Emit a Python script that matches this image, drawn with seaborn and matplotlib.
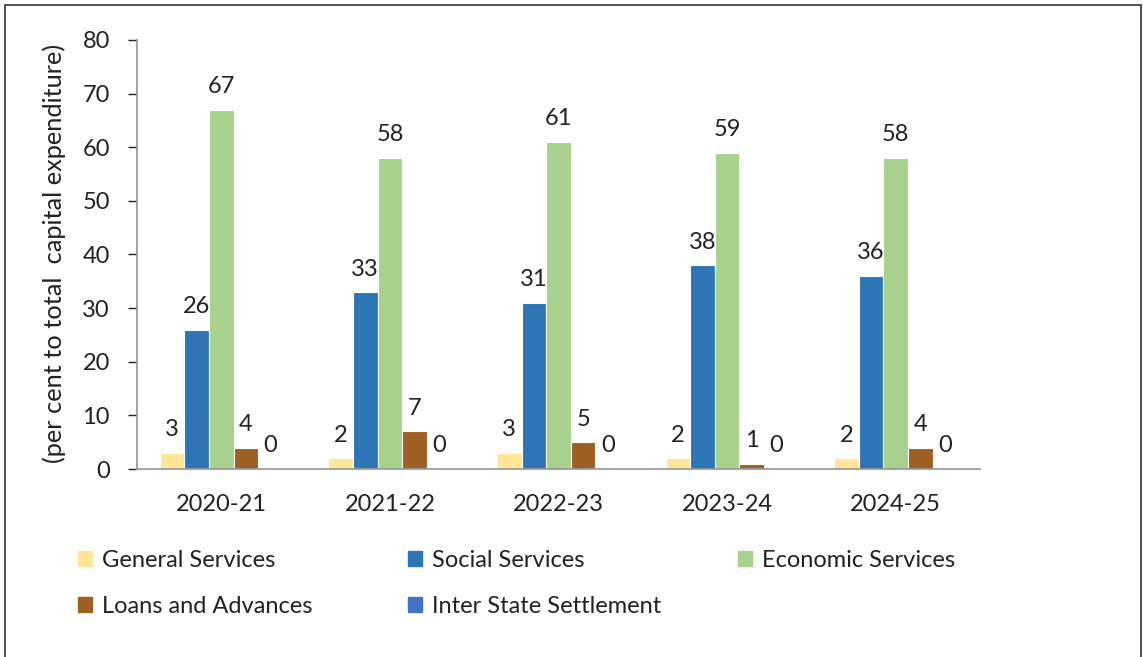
import numpy as np
import pandas as pd
import matplotlib
matplotlib.use("Agg")
import matplotlib.pyplot as plt
import seaborn as sns

years = ["2020-21", "2021-22", "2022-23", "2023-24", "2024-25"]
series = ["General Services", "Social Services", "Economic Services",
          "Loans and Advances", "Inter State Settlement"]
general = [3, 2, 3, 2, 2]
social = [26, 33, 31, 38, 36]
economic = [67, 58, 61, 59, 58]
loans = [4, 7, 5, 1, 4]
inter_state = [0, 0, 0, 0, 0]
colors = ["#FFE699", "#2E75B6", "#A9D18E", "#9E6024", "#4472C4"]

values = [general, social, economic, loans, inter_state]
rows = []
for s, vals in zip(series, values):
    for y, v in zip(years, vals):
        rows.append({"Year": y, "Series": s, "Value": v})
df = pd.DataFrame(rows)

sns.set_theme(style="white")
plt.rcParams['font.family'] = ['Lato', 'DejaVu Sans']

W, H = 1143, 657
fig = plt.figure(figsize=(W/100, H/100), dpi=100)
ax_l, ax_r, ax_t, ax_b = 137, 980, 40, 469
ax = fig.add_axes([ax_l/W, 1-ax_b/H, (ax_r-ax_l)/W, (ax_b-ax_t)/H])

sns.barplot(data=df, x="Year", y="Value", hue="Series", order=years,
            hue_order=series, palette=colors, width=0.73, ax=ax,
            errorbar=None, saturation=1, edgecolor="white", linewidth=0.8)

for cont in ax.containers:
    labels = [f"{int(round(b.get_height()))}" for b in cont]
    ax.bar_label(cont, labels=labels, padding=9, fontsize=17, color="#222222")

ax.set_ylim(0, 80)
ax.set_yticks(range(0, 81, 10))
ax.tick_params(axis='y', labelsize=17, length=6.5, width=1, pad=13, left=True,
               direction='out', colors="#222222")
ax.tick_params(axis='x', labelsize=17, length=0, colors="#222222", pad=18)
for t in ax.get_yticklines():
    t.set_color("#999999")
ax.set_xlabel("")
ax.set_ylabel("")
fig.text(54/W, 1-253/H, "(per cent to total  capital expenditure)", rotation=90,
         ha="center", va="center", fontsize=18.3, color="#222222")
sns.despine(ax=ax, top=True, right=True)
ax.spines['left'].set_color("#999999")
ax.spines['bottom'].set_color("#999999")

ax.legend_.remove()
handles = [plt.Rectangle((0, 0), 1, 1, color=c) for c in colors]
columns = [[0, 3], [1, 4], [2]]
col_x = [78, 408, 738]
for xs, idx in zip(col_x, columns):
    leg = fig.legend([handles[i] for i in idx], [series[i] for i in idx],
                     loc="upper left", bbox_to_anchor=(xs/W, 1-550/H),
                     ncol=1, frameon=False, fontsize=17, handlelength=0.6,
                     handleheight=0.6, handletextpad=0.4, labelspacing=1.05,
                     borderpad=0, borderaxespad=0)
    for t in leg.get_texts():
        t.set_color("#222222")

border = plt.Rectangle((5/W, -0.01), 1 - 7/W, 1 - 5/H + 0.01, transform=fig.transFigure,
                       fill=False, edgecolor="#333333", linewidth=1.2)
fig.patches.append(border)

fig.savefig("out.png", dpi=100)
